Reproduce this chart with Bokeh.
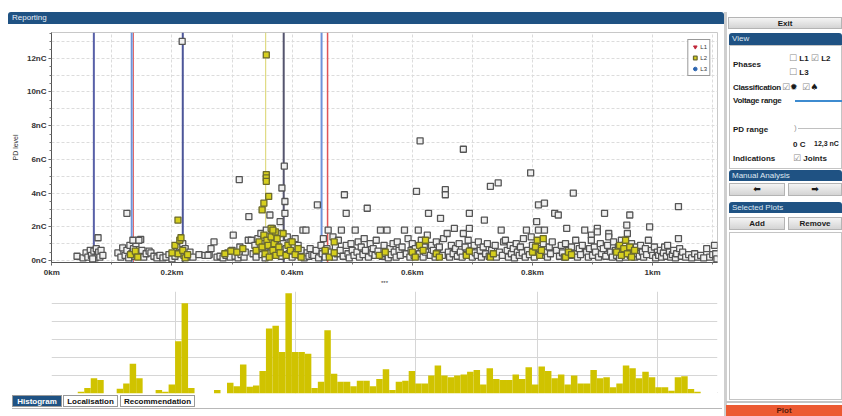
from bokeh.plotting import figure
from bokeh.models import Range1d, Span, Div, FixedTicker, Legend, LegendItem
from bokeh.layouts import column, row
from bokeh.embed import file_html
from bokeh.resources import INLINE

# ---------------- data ----------------
tick_km = [0, 0.2, 0.4, 0.6, 0.8, 1.0]
tick_km_labels = ["0km", "0.2km", "0.4km", "0.6km", "0.8km", "1km"]
tick_nc = [0, 2, 4, 6, 8, 10, 12]
tick_nc_labels = ["0nC", "2nC", "4nC", "6nC", "8nC", "10nC", "12nC"]

# joint / indication markers along the cable (km)
marker_km = [0.070, 0.133, 0.136, 0.218, 0.356, 0.386, 0.449, 0.459]

# PD events (km, nC) - grey squares
grey_a = [(0.042, 0.25), (0.052, 0.15), (0.057, 0.45), (0.060, 0.2), (0.064, 0.6), (0.066, 0.3), (0.070, 0.55),
          (0.072, 0.15), (0.074, 0.7), (0.076, 0.35), (0.078, 0.5), (0.080, 0.2), (0.082, 0.6), (0.077, 1.35),
          (0.068, 0.1), (0.085, 0.3)]
grey_b = [(0.110, 0.45), (0.115, 0.2), (0.118, 0.75), (0.122, 0.3), (0.125, 0.6), (0.128, 0.15), (0.130, 0.9),
          (0.133, 0.4), (0.136, 0.7), (0.138, 0.25), (0.140, 1.0), (0.142, 0.5), (0.145, 0.35), (0.148, 1.25),
          (0.150, 0.6), (0.153, 0.2), (0.157, 0.4), (0.162, 0.55), (0.125, 2.8), (0.135, 1.2), (0.145, 1.2)]
grey_c = [(0.165, 0.45), (0.170, 0.25), (0.175, 0.15), (0.180, 0.3), (0.185, 0.15), (0.190, 0.2), (0.195, 0.35),
          (0.200, 0.1), (0.205, 0.25), (0.208, 0.6), (0.212, 0.8), (0.215, 0.45), (0.218, 1.0), (0.220, 0.3),
          (0.222, 0.7), (0.225, 0.2), (0.230, 0.5), (0.235, 0.2), (0.245, 0.35), (0.217, 13.0)]
grey_d = [(0.255, 0.3), (0.262, 0.35), (0.265, 0.7), (0.270, 1.1), (0.275, 0.2), (0.280, 0.25), (0.285, 0.15),
          (0.290, 0.3), (0.293, 0.45), (0.297, 0.2), (0.300, 0.6), (0.302, 1.5), (0.305, 0.25), (0.310, 0.15),
          (0.313, 0.8), (0.315, 0.35), (0.320, 0.2), (0.322, 0.5), (0.327, 1.2), (0.332, 1.2), (0.328, 2.6),
          (0.312, 4.8), (0.260, 0.3)]
grey_e = [(0.335, 0.4), (0.338, 0.9), (0.340, 0.2), (0.343, 1.3), (0.345, 0.6), (0.348, 1.6), (0.350, 0.35),
          (0.352, 1.0), (0.355, 0.15), (0.357, 1.8), (0.360, 0.5), (0.363, 2.7), (0.365, 0.8), (0.367, 1.9),
          (0.370, 0.3), (0.372, 1.2), (0.375, 0.6), (0.377, 1.6), (0.380, 2.3), (0.382, 0.25), (0.383, 4.3),
          (0.385, 1.0), (0.387, 5.6), (0.388, 3.5), (0.388, 2.8), (0.390, 0.7), (0.392, 1.4), (0.395, 0.4),
          (0.398, 1.1), (0.400, 0.2), (0.403, 0.8), (0.405, 1.3), (0.408, 0.5), (0.410, 0.9), (0.413, 0.3),
          (0.415, 0.6), (0.418, 1.8), (0.420, 0.15), (0.423, 1.8), (0.425, 0.45), (0.428, 0.25), (0.430, 0.7),
          (0.433, 0.35)]
grey_f = [(0.436, 0.3), (0.440, 0.6), (0.442, 3.3), (0.444, 0.15), (0.448, 0.9), (0.450, 0.4), (0.452, 1.3),
          (0.455, 0.2), (0.458, 0.7), (0.460, 1.8), (0.462, 0.35), (0.465, 0.5), (0.468, 1.4), (0.470, 0.2),
          (0.472, 0.8), (0.475, 0.4), (0.477, 1.2), (0.480, 0.6), (0.482, 1.8), (0.485, 0.25), (0.487, 3.9),
          (0.490, 2.8), (0.490, 0.9), (0.493, 0.4), (0.495, 0.15), (0.498, 1.0), (0.500, 0.6), (0.503, 0.3),
          (0.505, 1.8), (0.508, 0.5), (0.510, 1.1), (0.512, 0.2), (0.515, 0.8), (0.518, 0.35), (0.520, 1.3),
          (0.522, 0.6), (0.525, 3.1), (0.527, 0.2), (0.530, 1.0), (0.533, 0.45), (0.535, 0.7), (0.538, 0.3),
          (0.540, 1.2), (0.543, 0.55), (0.547, 1.8), (0.550, 0.25), (0.553, 0.9), (0.555, 0.4), (0.558, 1.8),
          (0.560, 0.15), (0.563, 0.7), (0.565, 0.35), (0.568, 1.0), (0.570, 0.5), (0.573, 0.2), (0.575, 1.1),
          (0.578, 0.6), (0.580, 0.3), (0.583, 0.8), (0.587, 1.8), (0.590, 0.4), (0.593, 1.3), (0.596, 0.2),
          (0.598, 0.6)]
grey_g = [(0.600, 1.0), (0.603, 0.3), (0.605, 0.7), (0.607, 4.1), (0.610, 1.8), (0.612, 0.4), (0.613, 7.1),
          (0.615, 1.2), (0.618, 0.2), (0.620, 0.8), (0.622, 0.5), (0.625, 1.5), (0.627, 2.8), (0.630, 0.3),
          (0.632, 0.9), (0.635, 0.6), (0.638, 0.2), (0.640, 1.1), (0.642, 0.45), (0.645, 0.8), (0.647, 2.5),
          (0.650, 0.3), (0.652, 1.3), (0.655, 4.2), (0.655, 3.9), (0.658, 1.6), (0.660, 0.5), (0.662, 0.2),
          (0.665, 0.9), (0.668, 0.4), (0.670, 1.9), (0.672, 0.7), (0.675, 0.25), (0.678, 1.0), (0.680, 0.5),
          (0.683, 0.2), (0.685, 1.6), (0.685, 6.6), (0.688, 0.8), (0.690, 0.35), (0.693, 1.2), (0.695, 2.8),
          (0.695, 1.9), (0.698, 0.6), (0.700, 0.2), (0.703, 0.9), (0.705, 0.45), (0.708, 0.3), (0.710, 1.1),
          (0.713, 0.6), (0.715, 0.2), (0.718, 0.8), (0.720, 2.4), (0.722, 0.4), (0.725, 1.0), (0.728, 0.25),
          (0.730, 4.4), (0.732, 0.6), (0.735, 0.35), (0.738, 0.9), (0.740, 0.2), (0.743, 4.6), (0.745, 0.5),
          (0.748, 1.8)]
grey_h = [(0.750, 0.3), (0.752, 1.1), (0.755, 1.2), (0.758, 0.6), (0.760, 0.2), (0.763, 0.9), (0.765, 0.4),
          (0.768, 0.7), (0.770, 0.15), (0.773, 1.0), (0.775, 0.5), (0.778, 0.3), (0.780, 0.8), (0.783, 0.45),
          (0.785, 1.3), (0.788, 0.2), (0.790, 1.8), (0.792, 0.6), (0.795, 0.35), (0.797, 5.2), (0.798, 1.4),
          (0.800, 0.9), (0.803, 0.2), (0.805, 0.5), (0.807, 2.3), (0.810, 1.8), (0.810, 3.3), (0.812, 0.7),
          (0.815, 0.3), (0.818, 1.0), (0.820, 1.8), (0.820, 3.4), (0.823, 0.5), (0.825, 0.2), (0.828, 0.8),
          (0.830, 0.4), (0.833, 1.1), (0.837, 2.8), (0.840, 0.6), (0.843, 2.7), (0.845, 0.25), (0.848, 0.9),
          (0.850, 0.45), (0.853, 0.2), (0.855, 1.0), (0.857, 1.9), (0.860, 0.6), (0.863, 0.3), (0.865, 0.8),
          (0.868, 4.0), (0.870, 0.4), (0.872, 1.2), (0.875, 0.2), (0.878, 0.7), (0.880, 0.35), (0.883, 0.9),
          (0.887, 1.8), (0.890, 0.5), (0.893, 0.2), (0.895, 0.7), (0.898, 1.5), (0.898, 1.2)]
grey_i = [(0.900, 0.3), (0.903, 0.8), (0.905, 0.5), (0.908, 1.9), (0.908, 1.7), (0.910, 0.2), (0.913, 1.0),
          (0.915, 0.4), (0.918, 0.7), (0.920, 2.8), (0.922, 0.25), (0.925, 0.9), (0.927, 1.6), (0.927, 1.4),
          (0.930, 0.5), (0.933, 0.2), (0.935, 1.1), (0.938, 0.6), (0.940, 0.3), (0.943, 0.8), (0.945, 0.15),
          (0.948, 1.2), (0.950, 0.45), (0.953, 0.9), (0.955, 0.2), (0.957, 2.1), (0.958, 1.6), (0.960, 0.6),
          (0.962, 2.7), (0.963, 0.3), (0.965, 1.0), (0.968, 0.5), (0.970, 0.2), (0.973, 0.8), (0.975, 0.4),
          (0.978, 0.25), (0.980, 0.9), (0.983, 0.5), (0.985, 0.2), (0.988, 0.7), (0.990, 0.35), (0.993, 1.2),
          (0.995, 2.0), (0.998, 0.6), (1.000, 0.3), (1.003, 0.8), (1.005, 0.15), (1.008, 0.5), (1.010, 0.3),
          (1.013, 0.6), (1.015, 0.2), (1.018, 0.45), (1.020, 0.8), (1.023, 0.25), (1.025, 0.9), (1.028, 0.5),
          (1.030, 0.2), (1.033, 0.35), (1.035, 0.6), (1.038, 0.15), (1.040, 0.4), (1.043, 1.3), (1.043, 3.2),
          (1.045, 0.7), (1.048, 0.25), (1.050, 0.5), (1.055, 0.2), (1.060, 0.35), (1.065, 0.15), (1.070, 0.4),
          (1.075, 0.2), (1.080, 0.3), (1.085, 0.15), (1.090, 0.7), (1.095, 0.2), (1.100, 0.35), (1.103, 0.9),
          (1.105, 0.4), (1.107, 0.1)]

# PD events of phase L2 highlighted (yellow)
l2_points = [(0.131, 0.35), (0.139, 0.55), (0.143, 0.2),
             (0.205, 0.9), (0.210, 0.4), (0.213, 1.2), (0.215, 1.35), (0.218, 0.6), (0.222, 0.15), (0.210, 2.4),
             (0.200, 0.45), (0.226, 0.35),
             (0.288, 0.4), (0.298, 0.55), (0.308, 0.5), (0.318, 0.7),
             (0.340, 0.6), (0.345, 1.1), (0.350, 0.8), (0.353, 1.5), (0.355, 0.4), (0.358, 1.2), (0.357, 5.1),
             (0.357, 4.9), (0.357, 4.7), (0.361, 3.8), (0.353, 3.4), (0.350, 3.0), (0.360, 0.9), (0.362, 0.2),
             (0.365, 1.4), (0.368, 0.6), (0.370, 1.0), (0.373, 0.3), (0.375, 1.3), (0.378, 0.8), (0.380, 0.45),
             (0.385, 1.6), (0.390, 0.3), (0.393, 0.9), (0.397, 0.6), (0.400, 1.1), (0.405, 0.35), (0.410, 0.7),
             (0.415, 0.2), (0.357, 12.2), (0.365, 1.9), (0.372, 1.7), (0.368, 1.8),
             (0.455, 0.6), (0.462, 0.2), (0.470, 0.45), (0.545, 0.3), (0.555, 0.5), (0.470, 1.1),
             (0.600, 0.5), (0.605, 0.2), (0.612, 0.9), (0.618, 0.6), (0.622, 1.2), (0.640, 0.4), (0.645, 0.2),
             (0.690, 0.3), (0.695, 0.55), (0.730, 0.2), (0.735, 0.4),
             (0.800, 0.5), (0.805, 0.8), (0.808, 1.2), (0.812, 0.3), (0.815, 0.6), (0.818, 1.3), (0.855, 0.2),
             (0.860, 0.5), (0.865, 0.35),
             (0.940, 0.5), (0.945, 0.9), (0.948, 0.3), (0.952, 0.7), (0.955, 1.2), (0.958, 0.4), (0.962, 0.8),
             (0.965, 0.2), (0.970, 0.6)]

# histogram of PD counts per location bin
hist_start_km = 0.0
hist_bin_km = 0.0108
hist_counts = [0, 0, 0, 0, 0.1, 0.3, 0.85, 0.75, 0, 0,
               0.27, 0.55, 1.65, 0.85, 0, 0, 0.2, 0.1, 0.5, 2.9,
               5.0, 0.3, 0, 0, 0, 0.2, 0, 0.6, 0.4, 1.6,
               0.38, 0.45, 1.25, 3.6, 3.75, 2.3, 5.55, 2.3, 2.3, 2.2,
               0.3, 0.65, 3.5, 1.1, 0.65, 0.65, 0.4, 0.7, 0.7, 0.4,
               0.8, 1.35, 0.2, 0.65, 0.7, 1.25, 0.55, 0.55, 1.0, 1.55,
               1.0, 0.9, 1.0, 1.05, 1.2, 1.3, 0.5, 1.4, 0.8, 0.75,
               0.75, 1.05, 0.8, 1.45, 0.5, 1.5, 1.25, 0.85, 1.05, 0.5,
               1.0, 0.55, 0.55, 1.3, 0.85, 0.9, 0.35, 0.55, 1.55, 1.4,
               0.85, 1.2, 0.9, 0.35, 0.35, 0.15, 0.9, 0.95, 0.25, 0.1]
hist_grid_km = [0.206, 0.406, 0.606, 0.809, 1.008]

# ---------------- styles ----------------
FONT = "Liberation Sans"
BLUE = "#1f5283"
marker_colors = ["#5860a8", "#6f93d8", "#e06a6a", "#4c5699", "#d9d36a", "#55556e", "#6f93d8", "#e05555"]
marker_widths = [2, 2, 1, 2, 1, 2, 2, 1.5]

grey_pts = grey_a + grey_b + grey_c + grey_d + grey_e + grey_f + grey_g + grey_h + grey_i

# ---------------- header ----------------
header = Div(width=716, height=25, margin=0, text=(
    f'<div style="position:relative;width:716px;height:25px;">'
    f'<div style="position:absolute;left:0;top:12px;width:716px;height:12px;background:{BLUE};'
    f'border-radius:3px 3px 0 0;color:#e8eef6;font-family:{FONT};font-size:8px;line-height:12px;'
    f'padding-left:4px;box-sizing:border-box;">Reporting</div></div>'))

# ---------------- scatter ----------------
p = figure(width=716, height=263, output_backend="svg", toolbar_location=None,
           x_range=Range1d(-0.0005, 1.108), y_range=Range1d(-0.12, 13.53),
           min_border_left=43, min_border_right=7, min_border_top=7, min_border_bottom=24,
           margin=0, background_fill_color="white", border_fill_color="white")
p.styles = {"outline": "1px solid #b8b8b8", "outline-offset": "-3px"}
p.outline_line_color = "#c8c8c8"

p.xaxis.ticker = FixedTicker(ticks=tick_km, minor_ticks=[i * 0.1 for i in range(12)])
p.xaxis.major_label_overrides = {t: l for t, l in zip(tick_km, tick_km_labels)}
p.yaxis.ticker = FixedTicker(ticks=tick_nc, minor_ticks=[i * 0.5 for i in range(28)])
p.yaxis.major_label_overrides = {t: l for t, l in zip(tick_nc, tick_nc_labels)}
for ax in (p.xaxis, p.yaxis):
    ax.major_label_text_font = FONT
    ax.major_label_text_font_size = "8px"
    ax.major_label_text_font_style = "bold"
    ax.major_label_text_color = "#333333"
    ax.axis_line_color = "#555555"
    ax.major_tick_line_color = "#555555"
    ax.minor_tick_line_color = "#777777"
    ax.major_tick_out = 3
    ax.major_tick_in = 0
    ax.minor_tick_out = 2
    ax.minor_tick_in = 0
    ax.major_label_standoff = 2
    ax.axis_label_text_font = FONT
    ax.axis_label_text_font_style = "normal"
    ax.axis_label_text_color = "#333333"
p.xaxis.axis_label = "***"
p.xaxis.axis_label_text_font_size = "6px"
p.xaxis.axis_label_standoff = 0
p.yaxis.axis_label = "PD level"
p.yaxis.axis_label_text_font_size = "7px"
p.yaxis.axis_label_standoff = 5

p.xgrid.ticker = FixedTicker(ticks=[i * 0.1 for i in range(12)])
p.ygrid.ticker = FixedTicker(ticks=list(range(14)))
p.grid.grid_line_color = "#dcdcdc"
p.grid.grid_line_dash = "3 2"

for km, col, lw in zip(marker_km, marker_colors, marker_widths):
    p.add_layout(Span(location=km, dimension="height", line_color=col, line_width=lw, level="underlay"))

p.scatter([x for x, _ in grey_pts], [y for _, y in grey_pts], marker="square", size=6,
          line_color="#555555", line_width=1.3, fill_color="#f0f0f0")
r_l2 = p.scatter([x for x, _ in l2_points], [y for _, y in l2_points], marker="square", size=6,
                 line_color="#6b6a2c", line_width=1.3, fill_color="#d6cf1e")
nan = float("nan")
r_l1 = p.scatter(x=[nan], y=[nan], marker="inverted_triangle", size=8, fill_color="#c0283a", line_color="#c0283a")
r_l3 = p.scatter(x=[nan], y=[nan], marker="circle", size=8, fill_color="#2c64b0", line_color="#2c64b0")
legend = Legend(items=[LegendItem(label="L1", renderers=[r_l1], index=0),
                       LegendItem(label="L2", renderers=[r_l2], index=0),
                       LegendItem(label="L3", renderers=[r_l3], index=0)],
                location="top_right", margin=7, padding=2, spacing=2, label_standoff=1,
                glyph_width=9, glyph_height=9, label_height=9, label_width=6,
                label_text_font_size="6px", label_text_font=FONT, label_text_color="#333333",
                border_line_color="#333333", border_line_width=1.2, background_fill_color="white")
p.add_layout(legend)

# ---------------- histogram ----------------
h = figure(width=716, height=106, output_backend="svg", toolbar_location=None,
           x_range=p.x_range, y_range=Range1d(0, 5.65),
           min_border_left=43, min_border_right=7, min_border_top=3, min_border_bottom=1,
           margin=0, background_fill_color="white", border_fill_color="white")
h.styles = {"outline": "1px solid #b8b8b8", "outline-offset": "-2px"}
h.outline_line_color = None
h.xaxis.visible = False
h.yaxis.visible = False
h.xgrid.ticker = FixedTicker(ticks=hist_grid_km)
h.ygrid.ticker = FixedTicker(ticks=[1, 2, 3, 4, 5])
h.grid.grid_line_color = "#d6d6d6"
centers = [hist_start_km + (i + 0.5) * hist_bin_km for i in range(len(hist_counts))]
h.vbar(x=centers, top=hist_counts, width=hist_bin_km, fill_color="#d0c300", line_color=None)

# ---------------- tabs ----------------
def tab(left, width, label, active=False):
    bg = BLUE if active else "white"
    fg = "white" if active else "#111111"
    return (f'<div style="position:absolute;left:{left}px;top:1px;width:{width}px;height:12px;'
            f'background:{bg};color:{fg};border:1px solid #9a9a9a;font-family:{FONT};font-size:8px;'
            f'font-weight:bold;line-height:12px;text-align:center;">{label}</div>')

tabs = Div(width=716, height=22, margin=0, text=(
    '<div style="position:relative;width:716px;height:22px;">'
    '<div style="position:absolute;left:4px;top:14px;width:710px;height:1px;background:#b8b8b8;"></div>'
    + tab(4, 50, "Histogram", True) + tab(55, 55, "Localisation") + tab(112, 75, "Recommendation")
    + '</div>'))

# ---------------- side panel ----------------
def el(left, top, width, height, css, txt=""):
    return (f'<div style="position:absolute;left:{left}px;top:{top}px;width:{width}px;height:{height}px;'
            f'{css}">{txt}</div>')

def lab(left, top, txt, css=""):
    return f'<div style="position:absolute;left:{left}px;top:{top}px;white-space:nowrap;{css}">{txt}</div>'

btn = ("background:linear-gradient(#f4f4f4,#d4d4d4);border:1px solid #b4b4b4;box-sizing:border-box;"
       "text-align:center;line-height:11px;")
hdr = (f"background:{BLUE};color:#dfe8f2;font-weight:normal;padding-left:3px;box-sizing:border-box;"
       "border-radius:3px 3px 0 0;line-height:11px;")
chk = "color:#8a8a8a;font-family:'DejaVu Sans';font-weight:normal;font-size:9px;"
dv = "font-family:'DejaVu Sans';font-size:9px;"

side_html = (
    f'<div style="position:relative;width:118px;height:416px;overflow:hidden;font-family:{FONT};'
    f'font-size:8px;font-weight:bold;color:#1a1a1a;">'
    + el(0, 12, 3, 404, "background:#cfcfcf;")
    + el(4, 17, 114, 12, btn, "Exit")
    + el(5, 33, 113, 12, hdr, "View")
    + el(5, 45, 113, 124, "border:1px solid #c4c4c4;box-sizing:border-box;background:white;")
    + lab(9, 59, "Phases")
    + lab(65, 52, f'<span style="{chk}">☐</span> L1 <span style="{chk}">☑</span> L2')
    + lab(65, 66, f'<span style="{chk}">☐</span> L3')
    + lab(9, 82, "Classification", "letter-spacing:-0.3px;")
    + lab(58, 81, f'<span style="{chk}">☑</span><span style="{dv}">✹</span>'
                  f'&nbsp;&nbsp;<span style="{chk}">☑</span><span style="{dv}">♠</span>')
    + lab(9, 95, "Voltage range", "letter-spacing:-0.3px;")
    + el(71, 100, 47, 2, "background:#3d8bd0;")
    + lab(9, 124, "PD range")
    + lab(70, 122, ")", "color:#999;font-weight:normal;")
    + el(74, 128, 44, 1, "background:#c0c0c0;")
    + lab(69, 139, "0 C")
    + lab(90, 139, "12,3 nC", "font-size:7px;")
    + lab(9, 153, "Indications")
    + lab(69, 152, f'<span style="{chk}">☑</span> Joints')
    + el(5, 170, 113, 11, hdr, "Manual Analysis")
    + el(5, 183, 56, 13, btn + dv, "⬅")
    + el(64, 183, 54, 13, btn + dv, "➡")
    + el(5, 202, 113, 11, hdr, "Selected Plots")
    + el(5, 217, 56, 13, btn, "Add")
    + el(64, 217, 54, 13, btn, "Remove")
    + el(5, 232, 113, 168, "border:1px solid #c4c4c4;box-sizing:border-box;background:white;")
    + el(2, 401, 116, 2, "background:#c4c4c4;")
    + el(2, 405, 116, 11, "background:#ec5a32;color:#5a1a0a;text-align:center;line-height:11px;", "Plot")
    + '</div>')
side = Div(width=118, height=416, margin=0, text=side_html)

left = column(header, p, h, tabs, spacing=0, margin=(0, 0, 0, 8))
layout = row(left, side, spacing=0, margin=0)

open("out.html", "w").write(file_html(layout, INLINE))
